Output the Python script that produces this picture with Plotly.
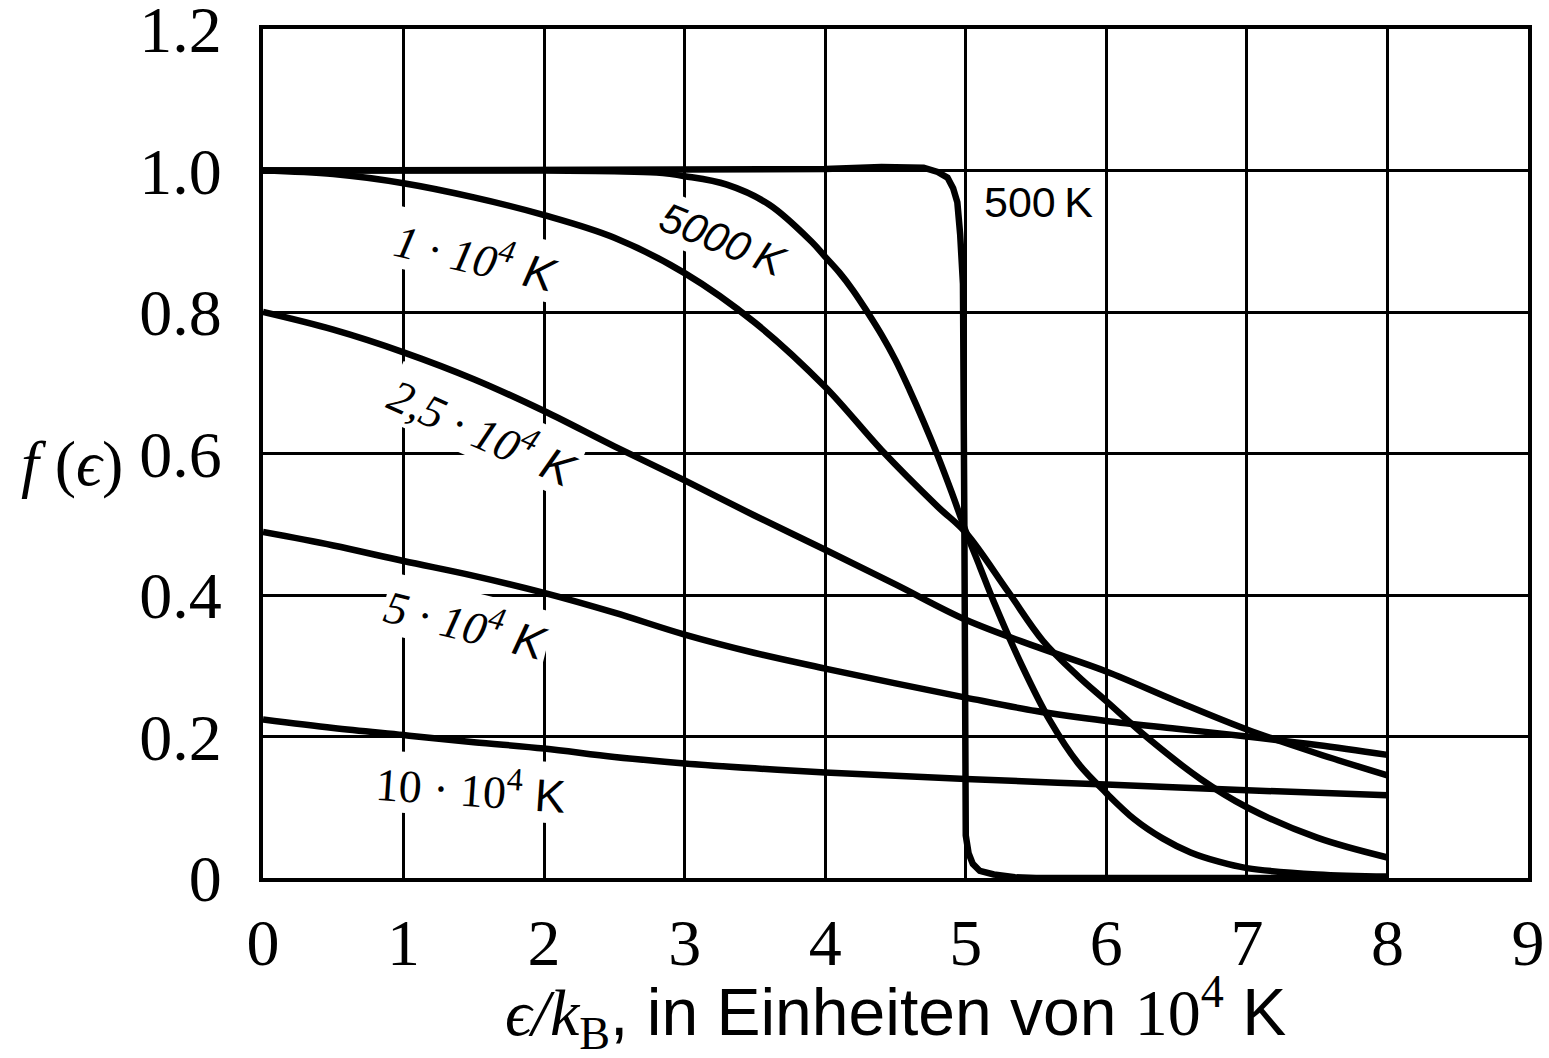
import plotly.graph_objects as go

# ---------------- data ----------------
x_500 = [0, 1, 2, 3, 4, 4.4, 4.7, 4.8, 4.87, 4.91, 4.94, 4.96, 4.98, 4.99, 4.99, 5.0, 5.02, 5.05, 5.1, 5.2, 5.35, 5.5, 6, 7, 8]
f_500 = [1.0, 1.0, 1.0, 1.0, 1.002, 1.005, 1.004, 0.998, 0.99, 0.975, 0.955, 0.91, 0.84, 0.5, 0.12, 0.06, 0.035, 0.02, 0.01, 0.005, 0.001, 0.0, 0.0, 0.0, 0.0]

x_5000 = [0, 1, 2, 2.5, 2.8, 3.0, 3.3, 3.6, 3.9, 4.0, 4.1, 4.2, 4.3, 4.4, 4.5, 4.6, 4.7, 4.8, 4.9, 5.0, 5.1, 5.2, 5.4, 5.6, 5.8, 6.0, 6.2, 6.4, 6.6, 6.8, 7.0, 7.5, 8.0]
f_5000 = [1.0, 1.0, 1.0, 0.999, 0.997, 0.992, 0.98, 0.952, 0.9, 0.878, 0.856, 0.83, 0.80, 0.768, 0.732, 0.69, 0.645, 0.597, 0.545, 0.49, 0.44, 0.39, 0.3, 0.222, 0.162, 0.12, 0.083, 0.056, 0.036, 0.023, 0.014, 0.005, 0.002]

x_1e4 = [0, 0.5, 1, 1.5, 2, 2.5, 3, 3.5, 4, 4.4, 4.8, 5.0, 5.3, 5.55, 5.8, 6.0, 6.3, 6.67, 7.0, 7.5, 8.0]
f_1e4 = [1.0, 0.995, 0.982, 0.962, 0.937, 0.905, 0.855, 0.785, 0.694, 0.605, 0.525, 0.488, 0.405, 0.335, 0.285, 0.25, 0.197, 0.14, 0.1, 0.057, 0.029]

x_25e4 = [0, 0.5, 1, 1.5, 2, 2.5, 3, 3.5, 4, 4.5, 5, 5.5, 6, 6.5, 7, 7.5, 8]
f_25e4 = [0.8, 0.775, 0.743, 0.705, 0.66, 0.61, 0.562, 0.512, 0.464, 0.415, 0.365, 0.327, 0.292, 0.25, 0.21, 0.176, 0.145]

x_5e4 = [0, 0.5, 1, 1.5, 2, 2.5, 3, 3.5, 4, 4.5, 5, 5.5, 6, 6.5, 7, 7.5, 8]
f_5e4 = [0.489, 0.47, 0.448, 0.427, 0.403, 0.375, 0.344, 0.318, 0.296, 0.275, 0.255, 0.236, 0.222, 0.211, 0.2, 0.188, 0.174]

x_10e4 = [0, 0.5, 1, 1.5, 2, 2.5, 3, 3.5, 4, 5, 6, 7, 8]
f_10e4 = [0.224, 0.212, 0.202, 0.192, 0.183, 0.171, 0.162, 0.155, 0.149, 0.14, 0.132, 0.124, 0.117]

x_ticks = [0, 1, 2, 3, 4, 5, 6, 7, 8, 9]
x_ticktext = ["0", "1", "2", "3", "4", "5", "6", "7", "8", "9"]
y_ticks = [0, 0.2, 0.4, 0.6, 0.8, 1.0, 1.2]
y_ticktext = ["0", "0.2", "0.4", "0.6", "0.8", "1.0", "1.2"]

# ---------------- figure ----------------
SERIF = "Liberation Serif"
SANS = "Liberation Sans"

fig = go.Figure()
curves = [
    (x_500, f_500, "linear"),
    (x_5000, f_5000, "spline"),
    (x_1e4, f_1e4, "spline"),
    (x_25e4, f_25e4, "spline"),
    (x_5e4, f_5e4, "spline"),
    (x_10e4, f_10e4, "spline"),
]
for xs, ys, shape in curves:
    fig.add_trace(go.Scatter(
        x=xs, y=ys, mode="lines",
        line=dict(color="black", width=6.5, shape=shape, smoothing=1.0),
        showlegend=False, hoverinfo="skip", cliponaxis=False))

axis_common = dict(
    showgrid=True, gridcolor="black", gridwidth=2.5,
    showline=True, linecolor="black", linewidth=4, mirror=True,
    zeroline=False, ticks="outside", tickcolor="rgba(0,0,0,0)",
    ticklabeloverflow="allow", automargin=False,
    tickfont=dict(family=SERIF, size=66, color="black"),
)

fig.update_layout(
    width=1549, height=1058,
    margin=dict(l=263, r=21, t=29, b=180),
    paper_bgcolor="white", plot_bgcolor="white",
    xaxis=dict(range=[0, 9.0001], tickvals=x_ticks, ticktext=x_ticktext,
               ticklen=4, **axis_common),
    yaxis=dict(range=[0, 1.20001], tickvals=y_ticks, ticktext=y_ticktext,
               ticklen=24, **axis_common),
)

def serif(t, italic=False):
    st = "font-style:italic;" if italic else ""
    return f"<span style='font-family:{SERIF};{st}'>{t}</span>"

def sans(t, italic=False):
    st = "font-style:italic;" if italic else ""
    return f"<span style='font-family:{SANS};{st}'>{t}</span>"

# axis titles as annotations
fig.add_annotation(
    xref="paper", yref="paper", x=0.5, y=-0.158, xanchor="center", yanchor="middle",
    showarrow=False, font=dict(size=66, color="black", family=SANS),
    text=serif("ϵ/", True) + serif("k", True) + serif("<sub>B</sub>") + sans(", in Einheiten von ")
         + serif("10<sup>4</sup>") + sans(" K"))
fig.add_annotation(
    xref="paper", yref="paper", x=-0.151, y=0.488, xanchor="center", yanchor="middle",
    showarrow=False, font=dict(size=64, color="black", family=SERIF),
    text=serif("f", True) + serif(" (") + serif("ϵ", True) + serif(")"))

# curve labels
labels = [
    (5.52, 0.955, sans("500\u2009K"), 0, 43),
    (3.27, 0.902, sans("5000\u2009K", True), 22, 42),
    (1.52, 0.880, serif("1 · 10<sup>4</sup>", True) + sans(" K", True), 13, 46),
    (1.57, 0.633, serif("2,5 · 10<sup>4</sup>", True) + sans(" K", True), 24, 46),
    (1.45, 0.362, serif("5 · 10<sup>4</sup>", True) + sans(" K", True), 14, 46),
    (1.48, 0.129, serif("10 · 10<sup>4</sup>", False) + sans(" K"), 4, 46),
]
for lx, ly, txt, ang, sz in labels:
    fig.add_annotation(x=lx, y=ly, xref="x", yref="y", text=txt, showarrow=False,
                       textangle=ang, bgcolor="white", borderpad=1,
                       font=dict(size=sz, color="black", family=SANS))

fig.write_html("out.html")
